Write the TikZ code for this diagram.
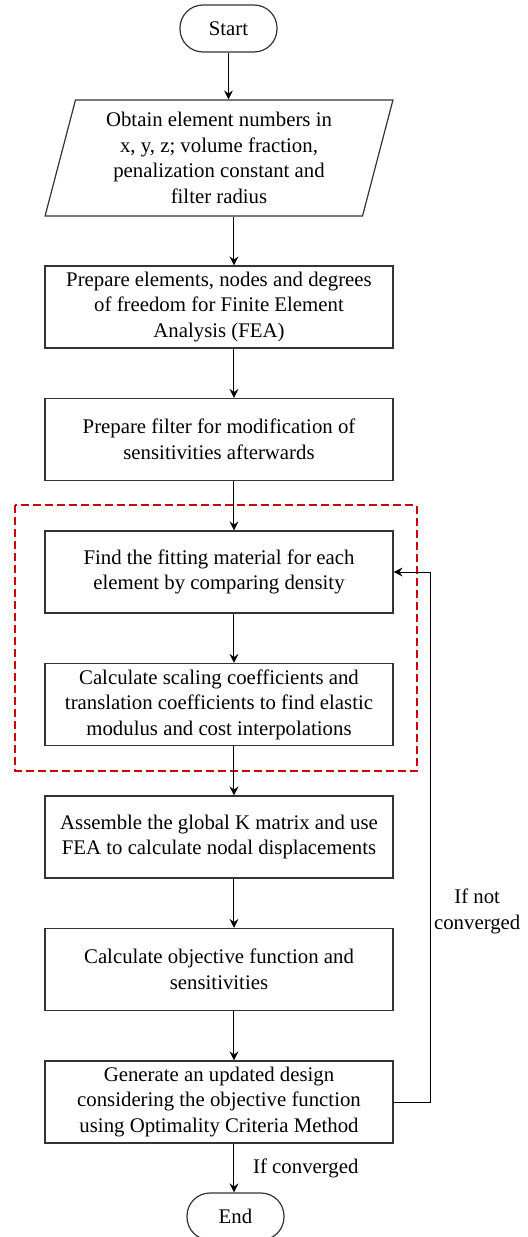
\documentclass[tikz,border=0pt]{standalone}
\usepackage{fontspec}
\setmainfont{Liberation Serif}
\usepackage{tikz}
\usetikzlibrary{shapes.geometric, arrows.meta}
\tikzstyle{terminal} = [rectangle, rounded corners=11.5pt,
minimum width=48.5pt,
minimum height=23.5pt, text centered,
line width=0.6pt, draw=black!80]
\tikzstyle{inputbox} = [trapezium,
trapezium stretches=true,
trapezium left angle=76.4,
trapezium right angle=103.6,
minimum width=174pt,
minimum height=58pt, align=center,
line width=0.6pt, draw=black!80]
\tikzstyle{process} = [rectangle,
minimum width=174pt,
minimum height=41pt,
align=center, inner sep=2pt,
line width=0.6pt, draw=black!80]
\tikzstyle{group} = [draw=red!80!black, line width=1pt, dash pattern=on 4pt off 2pt]
\tikzstyle{arrow} = [line width=0.5pt,->,>={Stealth[length=4.5pt,width=4.4pt,inset=1.6pt]}]

\begin{document}
\begin{tikzpicture}[node distance=66.25pt, font=\fontsize{10.4}{12.8}\selectfont]
\useasboundingbox (-114.25pt,14.25pt) rectangle (149.25pt,-604.25pt);

\node (start) [terminal] {Start};

\node (obtain) [inputbox, below of=start, xshift=-4.75pt, yshift=1.5pt] {Obtain element numbers in\\
x, y, z; volume fraction,\\
penalization constant and\\
filter radius};
\draw [arrow] (start.south) -- (start.south |- obtain.north);

\node (prepare) [process, below of=obtain, yshift=-8.25pt] {Prepare elements, nodes and degrees\\
of freedom for Finite Element\\
Analysis (FEA)};
\draw [arrow] ([xshift=7.5pt]prepare.north |- obtain.south) -- ([xshift=7.5pt]prepare.north);

\node (filter) [process, below of=prepare] {Prepare filter for modification of\\
sensitivities afterwards};
\draw [arrow] ([xshift=7.5pt]prepare.south) -- ([xshift=7.5pt]filter.north);

\node (fitting) [process, below of=filter] {Find the fitting material for each\\
element by comparing density};
\draw [arrow] ([xshift=7.5pt]filter.south) -- ([xshift=7.5pt]fitting.north);

\node (interp) [process, below of=fitting] {Calculate scaling coefficients and\\
translation coefficients to find elastic\\
modulus and cost interpolations};
\draw [arrow] ([xshift=7.5pt]fitting.south) -- ([xshift=7.5pt]interp.north);

% material interpolation part
\draw [group] ([shift={(-14.5pt,12.5pt)}]fitting.north west) rectangle ([shift={(11.5pt,-12.5pt)}]interp.south east);

\node (assemble) [process, below of=interp] {Assemble the global K matrix and use\\
FEA to calculate nodal displacements};
\draw [arrow] ([xshift=7.5pt]interp.south) -- ([xshift=7.5pt]assemble.north);

\node (objective) [process, below of=assemble] {Calculate objective function and\\
sensitivities};
\draw [arrow] ([xshift=7.5pt]assemble.south) -- ([xshift=7.5pt]objective.north);

\node (update) [process, below of=objective] {Generate an updated design\\
considering the objective function\\
using Optimality Criteria Method};
\draw [arrow] ([xshift=7.5pt]objective.south) -- ([xshift=7.5pt]update.north);

\draw [arrow] (update.east) -- ++(18.5pt,0) |- node[pos=0.18, right, inner sep=1.5pt, align=center] {If not\\converged} (fitting.east);

\node (end) [terminal, below of=update, xshift=8.25pt, yshift=9pt] {End};
\draw [arrow] ([xshift=7.5pt]update.south) -- node[right=6pt] {If converged} ([xshift=7.5pt]update.south |- end.north);

\end{tikzpicture}
\end{document}
